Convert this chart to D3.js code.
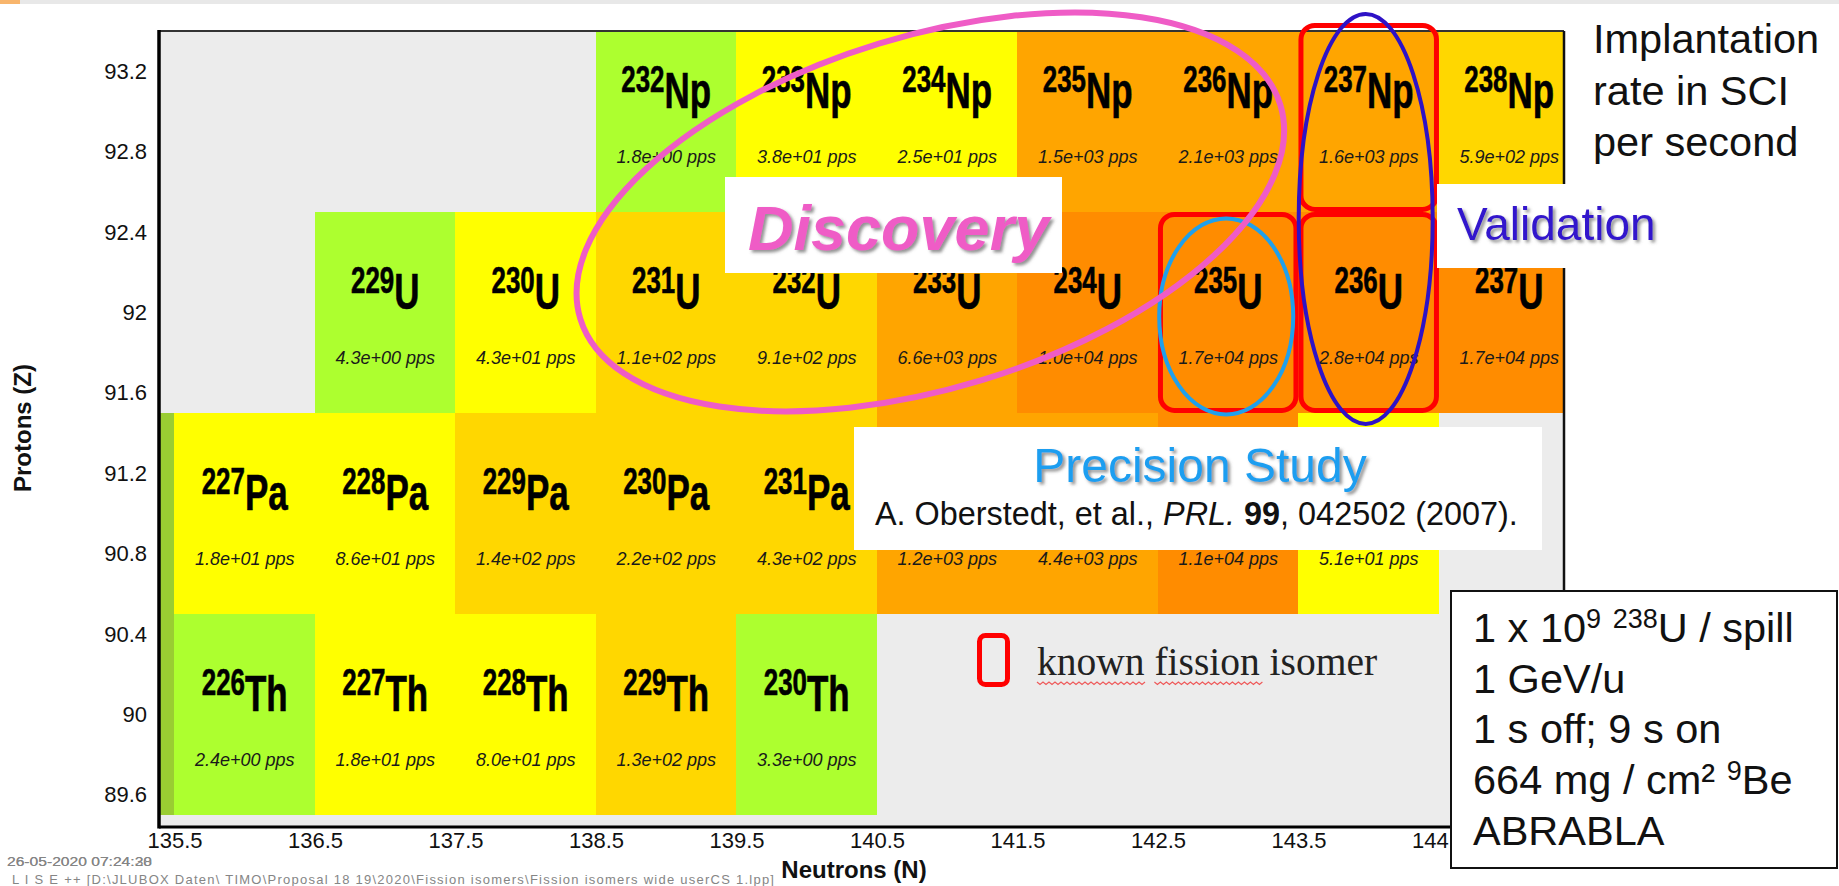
<!DOCTYPE html>
<html>
<head>
<meta charset="utf-8">
<script src="https://cdn.jsdelivr.net/npm/d3@7"></script>
<style>
  html, body { margin: 0; padding: 0; background: #fff; }
  svg { display: block; font-family: "Liberation Sans", Arial, sans-serif; }
  .pre { white-space: pre; }
</style>
</head>
<body>
<svg id="chart" width="1839" height="886"></svg>
<script>
// ---- Nuclides: proton number, neutron number, implantation rate in SCI (pps)
const nuclideZ    = [90, 90, 90, 90, 90, 90,
                     91, 91, 91, 91, 91, 91, 91, 91, 91, 91,
                     92, 92, 92, 92, 92, 92, 92, 92, 92,
                     93, 93, 93, 93, 93, 93, 93];
const nuclideN    = [135, 136, 137, 138, 139, 140,
                     135, 136, 137, 138, 139, 140, 141, 142, 143, 144,
                     137, 138, 139, 140, 141, 142, 143, 144, 145,
                     139, 140, 141, 142, 143, 144, 145];
const nuclideRate = [0.4, 2.4, 18, 80, 130, 3.3,
                     0.3, 18, 86, 140, 220, 430, 1200, 4400, 11000, 51,
                     4.3, 43, 110, 910, 6600, 10000, 17000, 28000, 17000,
                     1.8, 38, 25, 1500, 2100, 1600, 590];

// element symbols by Z
const elementZ   = [90, 91, 92, 93];
const elementSym = ["Th", "Pa", "U", "Np"];

// colour classes of the rate (pps)
const rateBreaks = [1, 10, 100, 1000, 10000];
const rateColors = ["#9acd32", "#adff2f", "#ffff00", "#ffd700", "#ffa500", "#ff8c00"];

// known fission isomers
const isomerZ = [92, 92, 93];
const isomerN = [143, 144, 144];

// axis ticks
const xTicks = [135.5, 136.5, 137.5, 138.5, 139.5, 140.5, 141.5, 142.5, 143.5, 144.5];
const yTicks = [89.6, 90, 90.4, 90.8, 91.2, 91.6, 92, 92.4, 92.8, 93.2];

// beam / target settings
const setupLines = [
  [{t: "1 x 10"}, {t: "9", sup: true}, {t: " "}, {t: "238", sup: true}, {t: "U / spill"}],
  [{t: "1 GeV/u"}],
  [{t: "1 s off; 9 s on"}],
  [{t: "664 mg / cm\u00b2 "}, {t: "9", sup: true}, {t: "Be"}],
  [{t: "ABRABLA"}]
];
const rateTitle = ["Implantation", "rate in SCI", "per second"];

// ---------------------------------------------------------------------------
const W = 1839, H = 886;
const plot = {left: 159, right: 1564, top: 31, bottom: 827};

const svg = d3.select("#chart");
const x = d3.scaleLinear().domain([135.39, 145.39]).range([plot.left, plot.right]);
const y = d3.scaleLinear().domain([89.44, 93.4]).range([plot.bottom, plot.top]);
const color = d3.scaleThreshold().domain(rateBreaks).range(rateColors);

function fmtRate(v) {
  const [m, e] = v.toExponential(1).split("e");
  const n = +e;
  return m + "e" + (n < 0 ? "-" : "+") + String(Math.abs(n)).padStart(2, "0");
}
const fmtTick = d => String(+d.toFixed(1));

const defs = svg.append("defs");
defs.append("clipPath").attr("id", "plotClip").append("rect")
  .attr("x", plot.left).attr("y", plot.top)
  .attr("width", plot.right - plot.left).attr("height", plot.bottom - plot.top);
const shadow = defs.append("filter").attr("id", "shadow")
  .attr("x", "-10%").attr("y", "-20%").attr("width", "130%").attr("height", "150%");
shadow.append("feDropShadow").attr("dx", 2.5).attr("dy", 2.5).attr("stdDeviation", 1.6)
  .attr("flood-color", "#666").attr("flood-opacity", 0.7);

// slide header strip
svg.append("rect").attr("x", 0).attr("y", 0).attr("width", W).attr("height", 4).attr("fill", "#e8e8e8");
svg.append("rect").attr("x", 0).attr("y", 0).attr("width", 20).attr("height", 4).attr("fill", "#f8b56c");

// plot background
svg.append("rect")
  .attr("x", plot.left).attr("y", plot.top)
  .attr("width", plot.right - plot.left).attr("height", plot.bottom - plot.top)
  .attr("fill", "#ececec");

const nuclides = nuclideZ.map((z, i) => ({
  Z: z, N: nuclideN[i], rate: nuclideRate[i], sym: elementSym[elementZ.indexOf(z)]
}));

// cells
const grid = svg.append("g").attr("clip-path", "url(#plotClip)");
grid.append("g").selectAll("rect").data(nuclides).join("rect")
  .attr("x", d => x(d.N - 0.5))
  .attr("y", d => y(d.Z + 0.5))
  .attr("width", d => x(d.N + 0.5) - x(d.N - 0.5))
  .attr("height", d => y(d.Z - 0.5) - y(d.Z + 0.5))
  .attr("fill", d => color(d.rate))
  .attr("shape-rendering", "crispEdges");

// nuclide names and rates (only for cells whose centre lies inside the frame)
const labelled = nuclides.filter(d => x(d.N) >= plot.left && x(d.N) <= plot.right);
const lbl = grid.append("g").selectAll("g").data(labelled).join("g")
  .attr("transform", d => `translate(${x(d.N)},${y(d.Z)})`);
lbl.append("text")
  .attr("transform", "translate(0,-3) scale(0.7,1)")
  .attr("text-anchor", "middle").attr("font-weight", "bold").attr("fill", "#000")
  .attr("stroke", "#000").attr("stroke-width", 0.6)
  .each(function (d) {
    const t = d3.select(this);
    t.append("tspan").attr("font-size", 37).attr("dy", -16).text(d.Z + d.N);
    t.append("tspan").attr("font-size", 50).attr("dy", 16).text(d.sym);
  });
lbl.append("text")
  .attr("y", 52).attr("text-anchor", "middle")
  .attr("font-style", "italic").attr("font-size", 18).attr("fill", "#1a1a1a")
  .text(d => fmtRate(d.rate) + " pps");

// axes
const yAxis = svg.append("g").attr("transform", `translate(${plot.left},0)`)
  .call(d3.axisLeft(y).tickValues(yTicks).tickSize(0).tickPadding(12).tickFormat(fmtTick));
yAxis.select(".domain").remove();
yAxis.attr("font-size", 22).attr("font-family", "Liberation Sans, Arial, sans-serif");
yAxis.selectAll("text").attr("fill", "#111");

const xAxis = svg.append("g").attr("transform", `translate(0,${plot.bottom})`)
  .call(d3.axisBottom(x).tickValues(xTicks).tickSize(0).tickPadding(5).tickFormat(fmtTick));
xAxis.select(".domain").remove();
xAxis.attr("font-size", 22).attr("font-family", "Liberation Sans, Arial, sans-serif");
xAxis.selectAll("text").attr("fill", "#111");

// frame
svg.append("line").attr("x1", plot.left).attr("x2", plot.right).attr("y1", plot.top).attr("y2", plot.top)
  .attr("stroke", "#333").attr("stroke-width", 2);
svg.append("line").attr("x1", plot.right).attr("x2", plot.right).attr("y1", plot.top).attr("y2", plot.bottom)
  .attr("stroke", "#111").attr("stroke-width", 2.5);
svg.append("line").attr("x1", plot.left).attr("x2", plot.left).attr("y1", plot.top - 1).attr("y2", plot.bottom + 1.5)
  .attr("stroke", "#000").attr("stroke-width", 3.5);
svg.append("line").attr("x1", plot.left).attr("x2", plot.right).attr("y1", plot.bottom).attr("y2", plot.bottom)
  .attr("stroke", "#000").attr("stroke-width", 3);

// axis titles
svg.append("text").attr("transform", "translate(31,428) rotate(-90)")
  .attr("text-anchor", "middle").attr("font-weight", "bold").attr("font-size", 24).attr("fill", "#111")
  .text("Protons (Z)");
svg.append("text").attr("x", 854).attr("y", 878)
  .attr("text-anchor", "middle").attr("font-weight", "bold").attr("font-size", 24).attr("fill", "#111")
  .text("Neutrons (N)");

// footer
const foot = svg.append("g").attr("fill", "#858585").attr("font-size", 13).attr("class", "pre");
foot.append("text").attr("x", 7).attr("y", 866)
  .attr("textLength", 145).attr("lengthAdjust", "spacingAndGlyphs").text("26-05-2020  07:24:30");
foot.append("text").attr("x", 7).attr("y", 866)
  .attr("textLength", 145).attr("lengthAdjust", "spacingAndGlyphs").text("26-05-2020  07:24:28");
foot.append("text").attr("x", 12).attr("y", 884)
  .attr("textLength", 762).attr("lengthAdjust", "spacing")
  .text("L I S E ++  [D:\\JLUBOX  Daten\\  TIMO\\Proposal 18  19\\2020\\Fission isomers\\Fission isomers  wide  userCS  1.lpp]");

// known fission isomers
const isomers = isomerZ.map((z, i) => ({Z: z, N: isomerN[i]}));
const isoTop = d => Math.max(y(d.Z + 0.5), plot.top - 8) + 2.5;
svg.append("g").selectAll("rect").data(isomers).join("rect")
  .attr("x", d => x(d.N - 0.5) + 2.5)
  .attr("y", isoTop)
  .attr("width", d => x(d.N + 0.5) - x(d.N - 0.5) - 5)
  .attr("height", d => y(d.Z - 0.5) - 2.5 - isoTop(d))
  .attr("rx", 14).attr("fill", "none").attr("stroke", "#ff0000").attr("stroke-width", 5);

// study regions
svg.append("ellipse")
  .attr("cx", x(143) - 2).attr("cy", y(92) + 4).attr("rx", 67).attr("ry", 98)
  .attr("fill", "none").attr("stroke", "#1fa0ec").attr("stroke-width", 4);
svg.append("ellipse")
  .attr("transform", `translate(${x(140.88)},${y(92.5)}) rotate(-17)`)
  .attr("rx", 366).attr("ry", 176)
  .attr("fill", "none").attr("stroke", "#ef5cc6").attr("stroke-width", 6);
svg.append("ellipse")
  .attr("cx", x(144) - 3).attr("cy", y(92.5) + 7).attr("rx", 67).attr("ry", 205)
  .attr("fill", "none").attr("stroke", "#2e12c6").attr("stroke-width", 4);

// labels for the regions
svg.append("rect").attr("x", 725).attr("y", 177).attr("width", 337).attr("height", 96).attr("fill", "#fff");
svg.append("text").attr("x", 748).attr("y", 250)
  .attr("font-size", 63).attr("font-weight", "bold").attr("font-style", "italic")
  .attr("fill", "#ef5cc6").attr("filter", "url(#shadow)").text("Discovery");

svg.append("rect").attr("x", 1437).attr("y", 184).attr("width", 160).attr("height", 84).attr("fill", "#fff");
svg.append("text").attr("x", 1457).attr("y", 240)
  .attr("font-size", 46).attr("fill", "#3312cc").attr("filter", "url(#shadow)").text("Validation");

svg.append("rect").attr("x", 854).attr("y", 427).attr("width", 688).attr("height", 123).attr("fill", "#fff");
svg.append("text").attr("x", 1200).attr("y", 482).attr("text-anchor", "middle")
  .attr("font-size", 48).attr("fill", "#1e9ef0").attr("filter", "url(#shadow)").text("Precision Study");
const cite = svg.append("text").attr("x", 875).attr("y", 525).attr("font-size", 32.4).attr("fill", "#111").attr("class", "pre");
cite.append("tspan").text("A. Oberstedt, et al., ");
cite.append("tspan").attr("font-style", "italic").text("PRL.");
cite.append("tspan").text(" ");
cite.append("tspan").attr("font-weight", "bold").text("99");
cite.append("tspan").text(", 042502 (2007).");

// legend
svg.append("rect").attr("x", 979.5).attr("y", 635.5).attr("width", 28).attr("height", 49)
  .attr("rx", 6).attr("fill", "none").attr("stroke", "#ff0000").attr("stroke-width", 5);
const legText = svg.append("text").attr("x", 1037).attr("y", 675)
  .attr("font-family", "Liberation Serif, Times New Roman, serif").attr("font-size", 39.5).attr("fill", "#222")
  .text("known fission isomer");
function squiggle(x0, x1, yy) {
  let p = `M${x0},${yy}`;
  for (let xx = x0, k = 0; xx < x1; xx += 3, k++) p += ` L${xx + 3},${yy + (k % 2 ? 0 : 2.4)}`;
  return p;
}
{
  const node = legText.node();
  const x0 = 1037;
  const wKnown = node.getSubStringLength(0, 5);
  const sFission = node.getSubStringLength(0, 6);
  const wFission = node.getSubStringLength(6, 7);
  svg.append("path").attr("d", squiggle(x0, x0 + wKnown, 682))
    .attr("fill", "none").attr("stroke", "#ee5a5a").attr("stroke-width", 1.2);
  svg.append("path").attr("d", squiggle(x0 + sFission, x0 + sFission + wFission, 682))
    .attr("fill", "none").attr("stroke", "#ee5a5a").attr("stroke-width", 1.2);
}

// rate title
svg.append("g").selectAll("text").data(rateTitle).join("text")
  .attr("x", 1593).attr("y", (d, i) => 53 + i * 51.5)
  .attr("font-size", 41.5).attr("fill", "#111").text(d => d);

// setup box
svg.append("rect").attr("x", 1451).attr("y", 591).attr("width", 386).attr("height", 277)
  .attr("fill", "#fff").attr("stroke", "#111").attr("stroke-width", 2);
const setup = svg.append("g").attr("font-size", 41.5).attr("fill", "#111").attr("class", "pre");
setupLines.forEach((segs, i) => {
  const t = setup.append("text").attr("x", 1473).attr("y", 642 + i * 50.7);
  let raised = false;
  segs.forEach(s => {
    const sp = t.append("tspan").text(s.t);
    if (s.sup && !raised) { sp.attr("font-size", 27).attr("dy", -14); raised = true; }
    else if (s.sup) { sp.attr("font-size", 27); }
    else if (raised) { sp.attr("dy", 14); raised = false; }
  });
});
</script>
</body>
</html>
